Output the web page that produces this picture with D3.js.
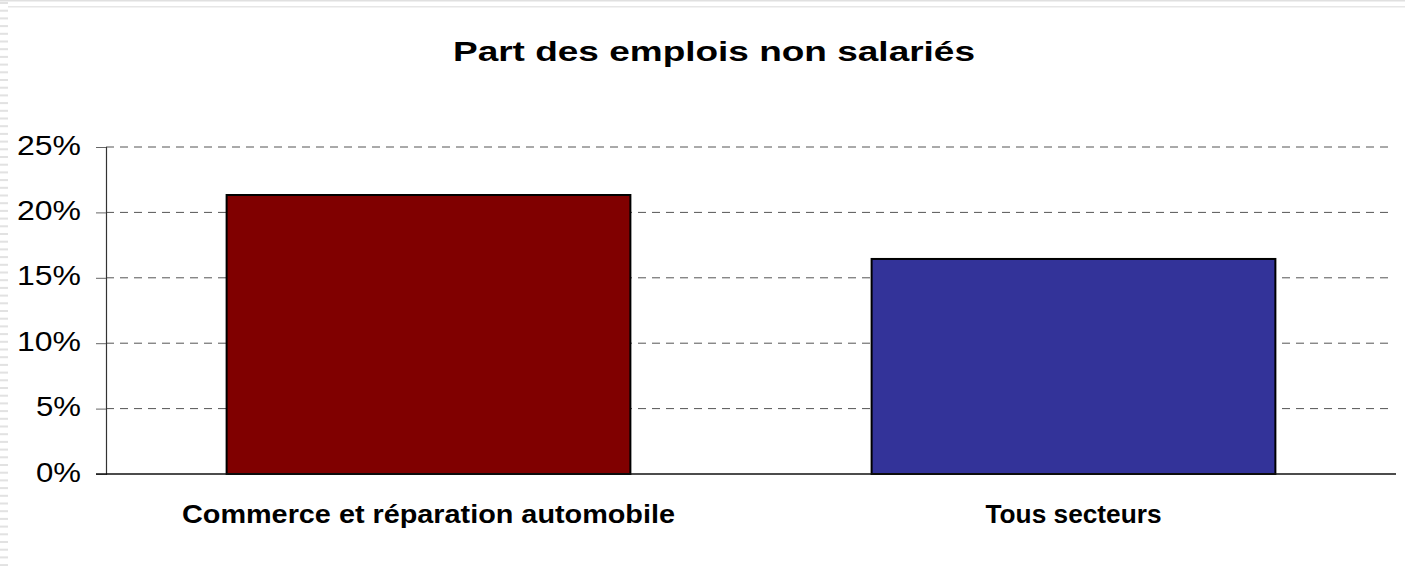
<!DOCTYPE html>
<html>
<head>
<meta charset="utf-8">
<script src="https://cdn.jsdelivr.net/npm/d3@7"></script>
<style>
  body { margin: 0; background: #fff; }
  svg text { font-family: Arial, "Liberation Sans", sans-serif; }
</style>
</head>
<body>
<div id="chart"></div>
<script>
// données
const categories = ["Commerce et réparation automobile", "Tous secteurs"];
const values = [0.2133, 0.1644];
const barColors = ["#800000", "#333399"];
const yTicks = [0, 0.05, 0.10, 0.15, 0.20, 0.25];
const title = "Part des emplois non salariés";

drawChart();

function drawChart() {
    const width = 1405;
    const height = 566;
    const margin = { top: 147, right: 9, bottom: 92, left: 106 };

    const svg = d3.select("#chart").append("svg")
        .attr("width", width)
        .attr("height", height);

    // bordure décorative (gauche et haut)
    const stripes = svg.append("g");
    for (let y = 2; y < height; y += 7.7) {
        stripes.append("rect")
            .attr("x", 0).attr("y", y)
            .attr("width", 8).attr("height", 2)
            .attr("fill", "#e2e2e2");
    }
    svg.append("rect").attr("x", 0).attr("y", 0).attr("width", width).attr("height", 1.5).attr("fill", "#e0e0e0");
    svg.append("rect").attr("x", 8).attr("y", 6).attr("width", width).attr("height", 1.5).attr("fill", "#e6e6e6");

    const x = d3.scaleBand()
        .domain(categories)
        .range([margin.left, width - margin.right])
        .paddingInner(0.374)
        .paddingOuter(0.187);

    const y = d3.scaleLinear()
        .domain([0, 0.25])
        .range([height - margin.bottom, margin.top]);

    // grille
    svg.append("g")
        .selectAll("line")
        .data(yTicks.filter(d => d > 0))
        .join("line")
        .attr("x1", margin.left)
        .attr("x2", width - margin.right - 6)
        .attr("y1", d => y(d))
        .attr("y2", d => y(d))
        .attr("stroke", "#555")
        .attr("stroke-width", 1)
        .attr("stroke-dasharray", "8,6");

    // barres
    svg.append("g")
        .selectAll("rect")
        .data(values)
        .join("rect")
        .attr("x", (d, i) => x(categories[i]))
        .attr("y", d => y(d))
        .attr("width", x.bandwidth())
        .attr("height", d => y(0) - y(d))
        .attr("fill", (d, i) => barColors[i])
        .attr("stroke", "#000")
        .attr("stroke-width", 2);

    // axe Y
    const yAxis = d3.axisLeft(y)
        .tickValues(yTicks)
        .tickFormat(d3.format(".0%"))
        .tickSize(10)
        .tickPadding(15);

    const gy = svg.append("g")
        .attr("transform", "translate(" + margin.left + ",0)")
        .call(yAxis);
    gy.select(".domain").attr("stroke", "#333").attr("stroke-width", 1.2);
    gy.selectAll(".tick line").attr("stroke", "#666");
    gy.selectAll(".tick text")
        .attr("font-size", 28)
        .attr("fill", "#000")
        .attr("dy", "0.25em")
        .attr("textLength", 64)
        .attr("lengthAdjust", "spacingAndGlyphs");
    gy.selectAll(".tick").filter(d => d < 0.1).select("text").attr("textLength", 45);

    // axe X
    svg.append("line")
        .attr("x1", margin.left - 10)
        .attr("x2", width - margin.right)
        .attr("y1", y(0))
        .attr("y2", y(0))
        .attr("stroke", "#111")
        .attr("stroke-width", 1.5);

    const labelWidths = [493, 176];
    svg.append("g")
        .selectAll("text")
        .data(categories)
        .join("text")
        .attr("x", d => x(d) + x.bandwidth() / 2)
        .attr("y", 523)
        .attr("text-anchor", "middle")
        .attr("font-size", 25)
        .attr("font-weight", "bold")
        .attr("textLength", (d, i) => labelWidths[i])
        .attr("lengthAdjust", "spacingAndGlyphs")
        .text(d => d);

    // titre
    svg.append("text")
        .attr("x", 714)
        .attr("y", 61)
        .attr("text-anchor", "middle")
        .attr("font-size", 28)
        .attr("font-weight", "bold")
        .attr("textLength", 522)
        .attr("lengthAdjust", "spacingAndGlyphs")
        .text(title);
}
</script>
</body>
</html>
